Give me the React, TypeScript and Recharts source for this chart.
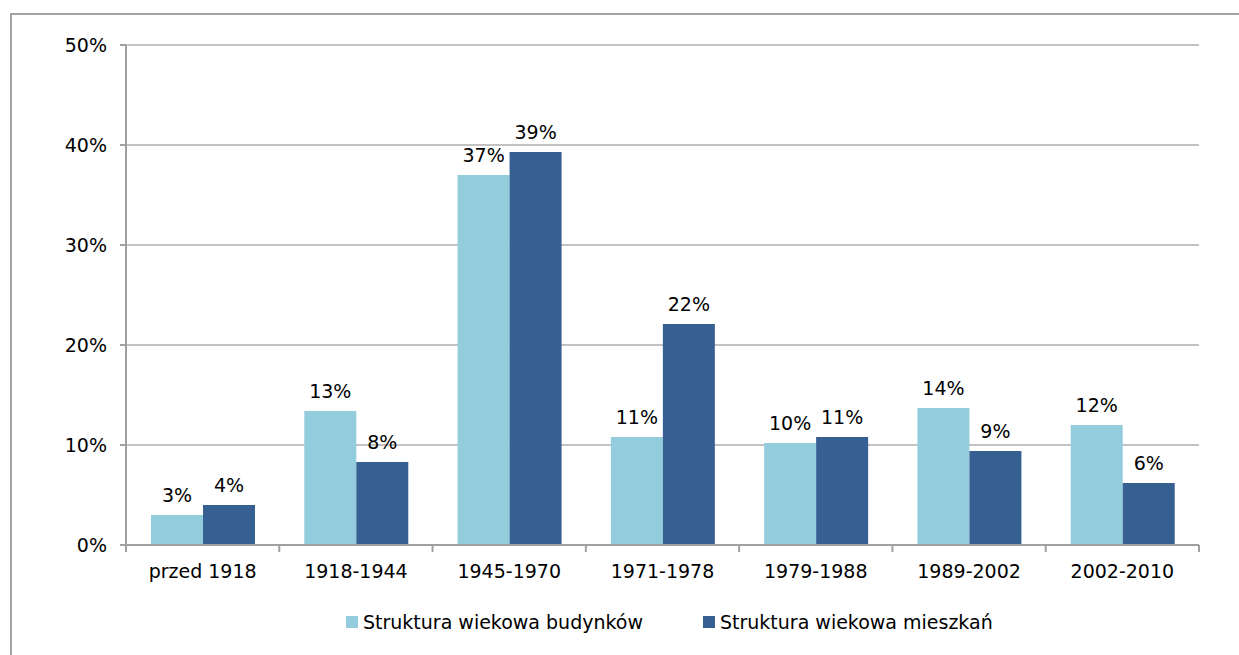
import React from "react";
import { BarChart, Bar, XAxis, YAxis, CartesianGrid, Legend, LabelList } from "recharts";

const categories = ["przed 1918", "1918-1944", "1945-1970", "1971-1978", "1979-1988", "1989-2002", "2002-2010"];
const budynkow = [3.0, 13.4, 37.0, 10.8, 10.2, 13.7, 12.0];
const mieszkan = [4.0, 8.3, 39.3, 22.1, 10.8, 9.4, 6.2];
const yTicks = [0, 10, 20, 30, 40, 50];

const seriesNames = ["Struktura wiekowa budynków", "Struktura wiekowa mieszkań"];
const LIGHT = "#93CDDD";
const DARK = "#376092";
const AXIS = "#a0a0a0";
const FONT = "'DejaVu Sans', Tahoma, Verdana, sans-serif";
const FS = 19;

const data = categories.map((c, i) => ({
  name: c,
  budynkow: budynkow[i],
  mieszkan: mieszkan[i],
}));

// category label plus the tick marks on the band edges (Excel style)
function CategoryTick(props: any) {
  const { x, y, payload, index, visibleTicksCount } = props;
  const half = payload.offset || 0;
  const axisY = y - 20;
  const last = index === visibleTicksCount - 1;
  return (
    <g>
      <line x1={x - half} x2={x - half} y1={axisY} y2={axisY + 7} stroke={AXIS} strokeWidth={2} />
      {last && <line x1={x + half} x2={x + half} y1={axisY} y2={axisY + 7} stroke={AXIS} strokeWidth={2} />}
      <text x={x} y={y} dy="0.71em" textAnchor="middle" fill="#000" fontSize={FS} fontFamily={FONT}>
        {payload.value}
      </text>
    </g>
  );
}

function LegendContent() {
  const items = [
    { name: seriesNames[0], color: LIGHT },
    { name: seriesNames[1], color: DARK },
  ];
  return (
    <div style={{ display: "flex", alignItems: "center", fontFamily: FONT, fontSize: FS, color: "#000" }}>
      {items.map((it, i) => (
        <div key={it.name} style={{ display: "flex", alignItems: "center", marginRight: i === 0 ? 60 : 0 }}>
          <span style={{ width: 12, height: 12, background: it.color, display: "inline-block", marginRight: 5 }} />
          <span>{it.name}</span>
        </div>
      ))}
    </div>
  );
}

export default function App() {
  return (
    <div style={{ position: "absolute", left: 0, top: 0, width: 1239, height: 655, background: "#fff", overflow: "hidden" }}>
      <div
        style={{
          position: "absolute",
          left: 10,
          top: 13,
          width: 1260,
          height: 700,
          borderTop: "2px solid #a3a3a3",
          borderLeft: "2px solid #a3a3a3",
        }}
      />
      <div style={{ position: "absolute", left: 0, top: 0 }}>
        <BarChart
          width={1239}
          height={655}
          data={data}
          margin={{ top: 45, right: 40, left: 0, bottom: 30 }}
          barCategoryGap={25}
          barGap={0}
        >
          <CartesianGrid vertical={false} stroke="#c2c2c2" strokeWidth={2} />
          <XAxis
            dataKey="name"
            height={40}
            axisLine={{ stroke: AXIS, strokeWidth: 2 }}
            tickLine={false}
            tickSize={0}
            tickMargin={20}
            interval={0}
            tick={<CategoryTick />}
          />
          <YAxis
            width={126}
            domain={[0, 50]}
            ticks={yTicks}
            tickFormatter={(v: number) => `${v}%`}
            axisLine={{ stroke: AXIS, strokeWidth: 2 }}
            tickLine={{ stroke: AXIS, strokeWidth: 2 }}
            tickSize={6}
            tickMargin={13}
            tick={{ fill: "#000", fontSize: FS, fontFamily: FONT }}
          />
          <Legend
            verticalAlign="bottom"
            height={40}
            wrapperStyle={{ top: 611, left: 346, width: "auto" }}
            content={<LegendContent />}
          />
          <Bar dataKey="budynkow" name={seriesNames[0]} fill={LIGHT} isAnimationActive={false}>
            <LabelList
              dataKey="budynkow"
              position="top"
              offset={13}
              formatter={(v: number) => `${Math.round(v)}%`}
              style={{ fill: "#000", fontSize: FS, fontFamily: FONT }}
            />
          </Bar>
          <Bar dataKey="mieszkan" name={seriesNames[1]} fill={DARK} isAnimationActive={false}>
            <LabelList
              dataKey="mieszkan"
              position="top"
              offset={13}
              formatter={(v: number) => `${Math.round(v)}%`}
              style={{ fill: "#000", fontSize: FS, fontFamily: FONT }}
            />
          </Bar>
        </BarChart>
      </div>
    </div>
  );
}
